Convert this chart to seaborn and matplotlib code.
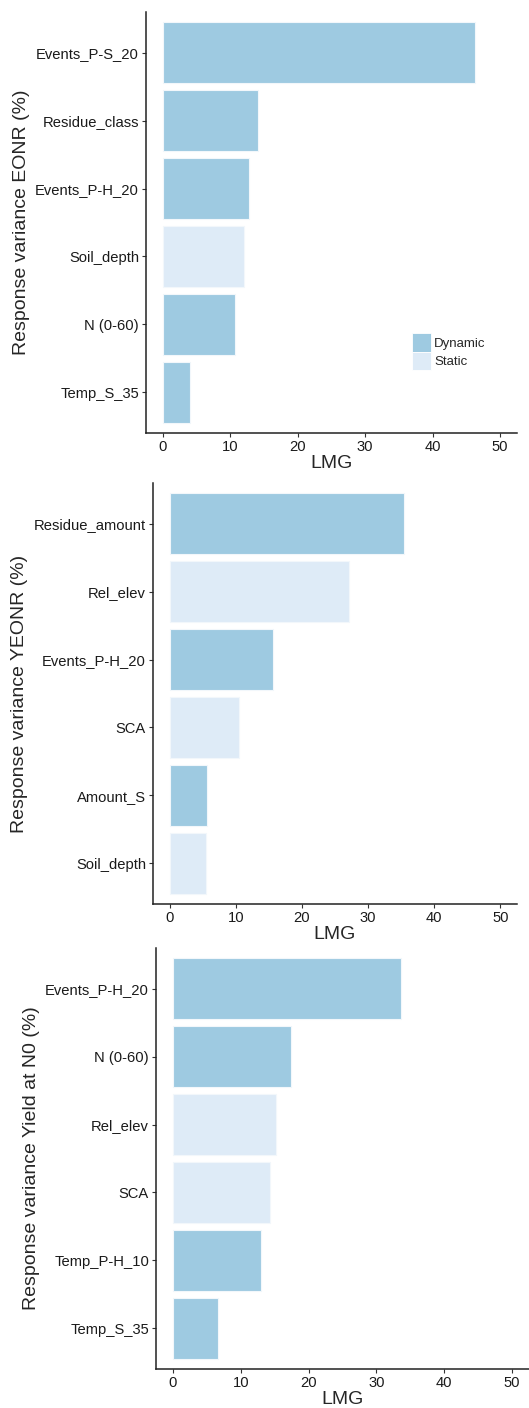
import pandas as pd
import matplotlib
matplotlib.use("Agg")
import matplotlib.pyplot as plt
import seaborn as sns

# EONR panel
eonr_vars = ["Events_P-S_20", "Residue_class", "Events_P-H_20", "Soil_depth", "N (0-60)", "Temp_S_35"]
eonr_lmg = [46.3, 14.05, 12.8, 12.1, 10.75, 3.95]
eonr_type = ["Dynamic", "Dynamic", "Dynamic", "Static", "Dynamic", "Dynamic"]

# YEONR panel
yeonr_vars = ["Residue_amount", "Rel_elev", "Events_P-H_20", "SCA", "Amount_S", "Soil_depth"]
yeonr_lmg = [35.5, 27.1, 15.65, 10.45, 5.6, 5.45]
yeonr_type = ["Dynamic", "Static", "Dynamic", "Static", "Dynamic", "Static"]

# Yield at N0 panel
yield_vars = ["Events_P-H_20", "N (0-60)", "Rel_elev", "SCA", "Temp_P-H_10", "Temp_S_35"]
yield_lmg = [33.6, 17.35, 15.15, 14.25, 13.0, 6.65]
yield_type = ["Dynamic", "Dynamic", "Static", "Static", "Dynamic", "Dynamic"]

palette = {"Dynamic": "#9ecae1", "Static": "#deebf7"}

sns.set_style("white")
plt.rcParams["font.family"] = ["Liberation Sans", "DejaVu Sans"]

W, H = 529, 1408
fig = plt.figure(figsize=(W / 100, H / 100), dpi=100)

panels = [
    (eonr_vars, eonr_lmg, eonr_type, "Response variance EONR (%)", (146, 517, 12, 433), True),
    (yeonr_vars, yeonr_lmg, yeonr_type, "Response variance YEONR (%)", (153, 517, 483, 904), False),
    (yield_vars, yield_lmg, yield_type, "Response variance Yield at N0 (%)", (156, 529, 948, 1369), False),
]

for names, vals, types, ylab, (x0, x1, y0, y1), show_legend in panels:
    df = pd.DataFrame({"Variable": names, "LMG": vals, "Type": types})
    ax = fig.add_axes([x0 / W, 1 - y1 / H, (x1 - x0) / W, (y1 - y0) / H])
    sns.barplot(
        data=df, x="LMG", y="Variable", hue="Type", order=names,
        hue_order=["Dynamic", "Static"], palette=palette, dodge=False,
        width=0.9, edgecolor="#f2f7fb", linewidth=0.8, saturation=1,
        legend=show_legend, ax=ax,
    )
    ax.set_xlim(-2.5, 52.5)
    ax.set_ylim(len(names) - 0.4, -0.6)
    ax.set_xticks([0, 10, 20, 30, 40, 50])
    ax.set_xlabel("LMG", fontsize=14, labelpad=1)
    ax.set_ylabel(ylab, fontsize=14, labelpad=4)
    ax.tick_params(axis="both", labelsize=10.6, length=3, width=0.8,
                   color="#333333", labelcolor="#1a1a1a", pad=2, left=True, bottom=True)
    for side in ["top", "right"]:
        ax.spines[side].set_visible(False)
    for side in ["left", "bottom"]:
        ax.spines[side].set_color("#222222")
        ax.spines[side].set_linewidth(1.1)
    if show_legend:
        leg = ax.legend(title=None, frameon=False, fontsize=9.5,
                        loc="upper left",
                        bbox_to_anchor=((412 - x0) / (x1 - x0), 1 - (333 - y0) / (y1 - y0)),
                        handlelength=1.42, handleheight=1.8, handletextpad=0.25,
                        labelspacing=0.0, borderpad=0.0, borderaxespad=0.0)
        for h in leg.legend_handles:
            h.set_edgecolor("white")
            h.set_linewidth(0.6)

fig.savefig("out.png", dpi=100)
